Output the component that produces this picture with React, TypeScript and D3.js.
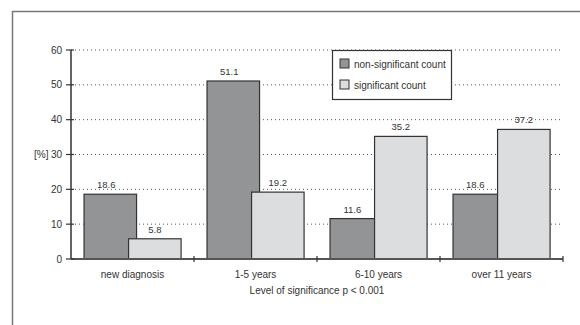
import React from "react";
import * as d3 from "d3";

const categories = ["new diagnosis", "1-5 years", "6-10 years", "over 11 years"];
const seriesNames = ["non-significant count", "significant count"];
const nonSignificant = [18.6, 51.1, 11.6, 18.6];
const significant = [5.8, 19.2, 35.2, 37.2];
const yTicks = [0, 10, 20, 30, 40, 50, 60];
const xTitle = "Level of significance p < 0.001";
const yTitle = "[%]";

const colors = ["#939496", "#dcdddf"];

export default function App() {
  const W = 580, H = 325;
  const x0 = 71, x1 = 563, yTop = 50, yBot = 259;
  const x = d3.scaleBand<string>().domain(categories).range([x0, x1]).paddingInner(0).paddingOuter(0);
  const y = d3.scaleLinear().domain([0, 60]).range([yBot, yTop]);
  const bw = x.bandwidth();
  // overlapping bars within a category: offset of each series within the band
  const inner = d3.scaleLinear().domain([0, 1]).range([0.106 * bw, 0.468 * bw]);
  const barW = 0.427 * bw;
  const series = [nonSignificant, significant];
  const font = "Liberation Sans, Arial, sans-serif";

  return (
    <svg width={W} height={H} style={{ position: "absolute", left: 0, top: 0 }} fontFamily={font}>
      <rect x={0} y={0} width={W} height={H} fill="#fff" />
      <path d={`M12.5,${H + 5} V11.5 H${W + 5}`} fill="none" stroke="#777" strokeWidth={1.5} />
      {yTicks.filter(t => t > 0).map(t => (
        <line key={"g" + t} x1={x0} x2={x1} y1={y(t)} y2={y(t)} stroke="#555" strokeWidth={1} strokeDasharray="1,3" />
      ))}
      {categories.map((c, i) => (
        <g key={c}>
          {series.map((s, j) => {
            const bx = (x(c) as number) + inner(j);
            return (
              <rect key={j} x={bx} y={y(s[i])} width={barW} height={yBot - y(s[i])} fill={colors[j]} stroke="#333" strokeWidth={1.2} />
            );
          })}
          {series.map((s, j) => {
            const bx = (x(c) as number) + inner(j);
            const visibleW = j === 0 ? inner(1) - inner(0) : barW;
            return (
              <text key={"l" + j} x={bx + visibleW / 2} y={y(s[i]) - 6} textAnchor="middle" fontSize={9.5} fill="#333">{s[i].toFixed(1)}</text>
            );
          })}
        </g>
      ))}
      <line x1={x0} x2={x0} y1={yTop} y2={yBot} stroke="#555" strokeWidth={1.8} />
      <line x1={x0} x2={x1} y1={yBot} y2={yBot} stroke="#555" strokeWidth={1.8} />
      {yTicks.map(t => (
        <g key={"t" + t}>
          <line x1={x0 - 5} x2={x0 + 3} y1={y(t)} y2={y(t)} stroke="#333" strokeWidth={1.2} />
          <text x={x0 - 9} y={y(t) + 3.5} textAnchor="end" fontSize={10} fill="#333">{t}</text>
        </g>
      ))}
      {categories.map((c, i) => (
        <line key={"ct" + i} x1={(x(c) as number) + bw} x2={(x(c) as number) + bw} y1={yBot - 3} y2={yBot + 3} stroke="#333" strokeWidth={1.2} />
      ))}
      {categories.map(c => (
        <text key={"cl" + c} x={(x(c) as number) + bw / 2} y={278} textAnchor="middle" fontSize={10} fill="#333">{c}</text>
      ))}
      <text x={(x0 + x1) / 2} y={294} textAnchor="middle" fontSize={10} fill="#333">{xTitle}</text>
      <text x={34} y={y(30) + 3.5} fontSize={10} fill="#333">{yTitle}</text>
      <rect x={332.5} y={50.5} width={119} height={49} fill="#fff" stroke="#333" strokeWidth={1.2} />
      {seriesNames.map((n, j) => (
        <g key={n}>
          <rect x={340} y={59 + j * 21} width={9} height={9} fill={colors[j]} stroke="#333" strokeWidth={1} />
          <text x={354} y={67.5 + j * 21} fontSize={10} fill="#333">{n}</text>
        </g>
      ))}
    </svg>
  );
}
